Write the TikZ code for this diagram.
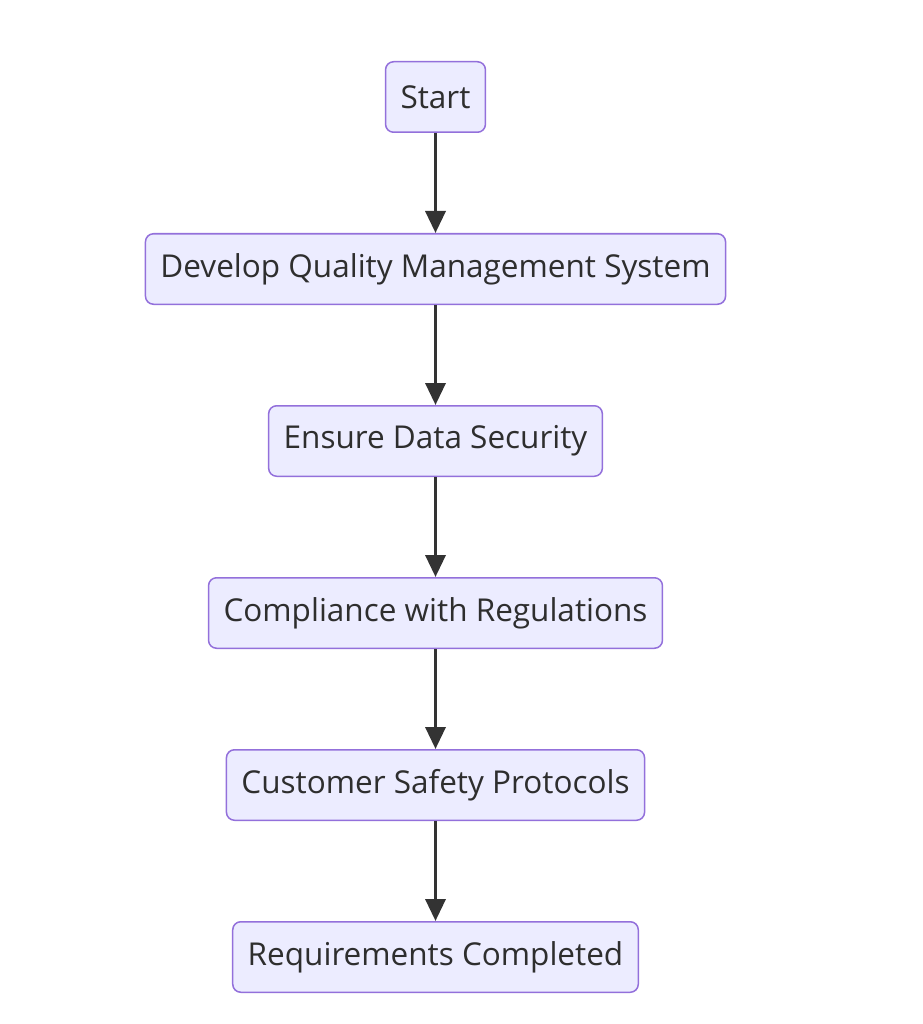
\documentclass[tikz,border=0pt]{standalone}
\usepackage{fontspec}
\setmainfont{Open Sans}
\usepackage{tikz}
\usetikzlibrary{arrows.meta, positioning}
\usepackage{xcolor}
\definecolor{mmfill}{HTML}{ECECFF}
\definecolor{mmline}{HTML}{9370DB}
\definecolor{mmarrow}{HTML}{333333}

\tikzset{
    stepbox/.style={draw=mmline, fill=mmfill, rounded corners=8pt, line width=1.5pt,
        minimum height=70.5pt, inner xsep=15pt, text=mmarrow!90!black,
        font=\fontsize{31.5}{36}\selectfont},
    flow/.style={draw=mmarrow, line width=3.5pt, -{Triangle[length=22pt, width=20pt]}}
}

\begin{document}
\begin{tikzpicture}[x=1pt, y=-1pt, node distance=100pt]
    \useasboundingbox (0,0) rectangle (922,1024);
    \node[stepbox] (start) at (435.5,97) {Start};
    \node[stepbox, below=of start] (qms) {Develop Quality Management System};
    \node[stepbox, below=of qms] (data) {Ensure Data Security};
    \node[stepbox, below=of data] (comply) {Compliance with Regulations};
    \node[stepbox, below=of comply] (safety) {Customer Safety Protocols};
    \node[stepbox, below=of safety] (done) {Requirements Completed};

    \draw[flow] (start) -- (qms);
    \draw[flow] (qms) -- (data);
    \draw[flow] (data) -- (comply);
    \draw[flow] (comply) -- (safety);
    \draw[flow] (safety) -- (done);
\end{tikzpicture}
\end{document}
